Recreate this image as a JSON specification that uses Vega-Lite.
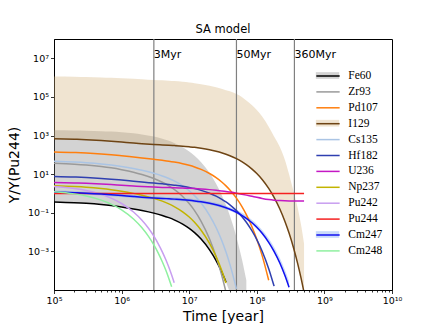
{
"$schema": "https://vega.github.io/schema/vega-lite/v6.json",
"width": 338, "height": 251,
"autosize": {"type": "none"},
"padding": {"left": 54, "top": 39, "right": 44, "bottom": 37},
"background": "white",
"title": {"text": "SA model", "fontSize": 11.5, "fontWeight": "normal", "font": "DejaVu Sans", "offset": 2.5, "color": "black"},
"config": {"font": "DejaVu Sans", "view": {"stroke": "black", "strokeWidth": 1}},
"datasets": {
"lines": [
{"iso":"Fe60","t":1e5,"y":0.363},{"iso":"Fe60","t":2e5,"y":0.333},{"iso":"Fe60","t":3e5,"y":0.308},{"iso":"Fe60","t":5e5,"y":0.267},{"iso":"Fe60","t":7e5,"y":0.235},{"iso":"Fe60","t":1e6,"y":0.199},{"iso":"Fe60","t":1.5e6,"y":0.158},{"iso":"Fe60","t":2e6,"y":0.131},{"iso":"Fe60","t":3e6,"y":0.0957},{"iso":"Fe60","t":4e6,"y":0.0726},{"iso":"Fe60","t":5e6,"y":0.0558},{"iso":"Fe60","t":6e6,"y":0.0431},{"iso":"Fe60","t":8e6,"y":0.0259},{"iso":"Fe60","t":1e7,"y":0.0155},{"iso":"Fe60","t":1.2e7,"y":0.00931},{"iso":"Fe60","t":1.5e7,"y":0.00433},{"iso":"Fe60","t":2e7,"y":0.0012},{"iso":"Fe60","t":2.5e7,"y":0.000336},{"iso":"Fe60","t":3e7,"y":9.35e-5},{"iso":"Fe60","t":3.5e7,"y":2.61e-5},
{"iso":"Zr93","t":1e5,"y":36.3},{"iso":"Zr93","t":2e5,"y":32.8},{"iso":"Zr93","t":3e5,"y":29.8},{"iso":"Zr93","t":5e5,"y":25.0},{"iso":"Zr93","t":7e5,"y":21.3},{"iso":"Zr93","t":1e6,"y":17.1},{"iso":"Zr93","t":1.5e6,"y":12.6},{"iso":"Zr93","t":2e6,"y":9.57},{"iso":"Zr93","t":3e6,"y":5.92},{"iso":"Zr93","t":4e6,"y":3.80},{"iso":"Zr93","t":5e6,"y":2.47},{"iso":"Zr93","t":6e6,"y":1.61},{"iso":"Zr93","t":8e6,"y":0.697},{"iso":"Zr93","t":1e7,"y":0.299},{"iso":"Zr93","t":1.2e7,"y":0.129},{"iso":"Zr93","t":1.5e7,"y":0.0363},{"iso":"Zr93","t":2e7,"y":0.00441},{"iso":"Zr93","t":2.5e7,"y":0.000535},{"iso":"Zr93","t":3e7,"y":6.49e-5},{"iso":"Zr93","t":3.5e7,"y":7.87e-6},
{"iso":"Pd107","t":1e5,"y":141},{"iso":"Pd107","t":2e5,"y":132},{"iso":"Pd107","t":3e5,"y":124},{"iso":"Pd107","t":5e5,"y":111},{"iso":"Pd107","t":7e5,"y":101},{"iso":"Pd107","t":1e6,"y":89.3},{"iso":"Pd107","t":1.5e6,"y":76.7},{"iso":"Pd107","t":2e6,"y":68.9},{"iso":"Pd107","t":3e6,"y":58.9},{"iso":"Pd107","t":4e6,"y":52.2},{"iso":"Pd107","t":5e6,"y":47.1},{"iso":"Pd107","t":6e6,"y":42.5},{"iso":"Pd107","t":8e6,"y":35.0},{"iso":"Pd107","t":1e7,"y":28.8},{"iso":"Pd107","t":1.2e7,"y":23.7},{"iso":"Pd107","t":1.5e7,"y":17.6},{"iso":"Pd107","t":2e7,"y":10.8},{"iso":"Pd107","t":2.5e7,"y":6.62},{"iso":"Pd107","t":3e7,"y":4.06},{"iso":"Pd107","t":3.5e7,"y":2.48},{"iso":"Pd107","t":4e7,"y":1.52},{"iso":"Pd107","t":5e7,"y":0.571},{"iso":"Pd107","t":6e7,"y":0.215},{"iso":"Pd107","t":7e7,"y":0.0805},{"iso":"Pd107","t":8.5e7,"y":0.0185},{"iso":"Pd107","t":1e8,"y":0.00427},{"iso":"Pd107","t":1.2e8,"y":0.000603},{"iso":"Pd107","t":1.5e8,"y":3.19e-5},
{"iso":"I129","t":1e5,"y":692},{"iso":"I129","t":2e5,"y":649},{"iso":"I129","t":3e5,"y":614},{"iso":"I129","t":5e5,"y":556},{"iso":"I129","t":7e5,"y":512},{"iso":"I129","t":1e6,"y":462},{"iso":"I129","t":1.5e6,"y":410},{"iso":"I129","t":2e6,"y":380},{"iso":"I129","t":3e6,"y":345},{"iso":"I129","t":4e6,"y":327},{"iso":"I129","t":5e6,"y":313},{"iso":"I129","t":6e6,"y":301},{"iso":"I129","t":8e6,"y":281},{"iso":"I129","t":1e7,"y":261},{"iso":"I129","t":1.2e7,"y":244},{"iso":"I129","t":1.5e7,"y":219},{"iso":"I129","t":2e7,"y":183},{"iso":"I129","t":2.5e7,"y":153},{"iso":"I129","t":3e7,"y":129},{"iso":"I129","t":3.5e7,"y":108},{"iso":"I129","t":4e7,"y":90.2},{"iso":"I129","t":5e7,"y":63.2},{"iso":"I129","t":6e7,"y":44.4},{"iso":"I129","t":7e7,"y":31.1},{"iso":"I129","t":8.5e7,"y":18.3},{"iso":"I129","t":1e8,"y":10.7},{"iso":"I129","t":1.2e8,"y":5.27},{"iso":"I129","t":1.5e8,"y":1.82},{"iso":"I129","t":1.8e8,"y":0.628},{"iso":"I129","t":2.2e8,"y":0.152},{"iso":"I129","t":2.6e8,"y":0.0367},{"iso":"I129","t":3e8,"y":0.00889},{"iso":"I129","t":3.5e8,"y":0.00151},{"iso":"I129","t":4e8,"y":0.000256},{"iso":"I129","t":4.5e8,"y":4.34e-5},{"iso":"I129","t":5e8,"y":7.35e-6},
{"iso":"Cs135","t":1e5,"y":46.8},{"iso":"Cs135","t":2e5,"y":42.8},{"iso":"Cs135","t":3e5,"y":39.4},{"iso":"Cs135","t":5e5,"y":33.9},{"iso":"Cs135","t":7e5,"y":29.6},{"iso":"Cs135","t":1e6,"y":24.8},{"iso":"Cs135","t":1.5e6,"y":19.4},{"iso":"Cs135","t":2e6,"y":15.8},{"iso":"Cs135","t":3e6,"y":11.1},{"iso":"Cs135","t":4e6,"y":8.09},{"iso":"Cs135","t":5e6,"y":6.0},{"iso":"Cs135","t":6e6,"y":4.46},{"iso":"Cs135","t":8e6,"y":2.49},{"iso":"Cs135","t":1e7,"y":1.39},{"iso":"Cs135","t":1.2e7,"y":0.773},{"iso":"Cs135","t":1.5e7,"y":0.321},{"iso":"Cs135","t":2e7,"y":0.0743},{"iso":"Cs135","t":2.5e7,"y":0.0172},{"iso":"Cs135","t":3e7,"y":0.00398},{"iso":"Cs135","t":3.5e7,"y":0.00092},{"iso":"Cs135","t":4e7,"y":0.000213},{"iso":"Cs135","t":5e7,"y":1.14e-5},
{"iso":"Hf182","t":1e5,"y":7.59},{"iso":"Hf182","t":2e5,"y":7.10},{"iso":"Hf182","t":3e5,"y":6.68},{"iso":"Hf182","t":5e5,"y":6.01},{"iso":"Hf182","t":7e5,"y":5.50},{"iso":"Hf182","t":1e6,"y":4.92},{"iso":"Hf182","t":1.5e6,"y":4.30},{"iso":"Hf182","t":2e6,"y":3.91},{"iso":"Hf182","t":3e6,"y":3.44},{"iso":"Hf182","t":4e6,"y":3.14},{"iso":"Hf182","t":5e6,"y":2.91},{"iso":"Hf182","t":6e6,"y":2.70},{"iso":"Hf182","t":8e6,"y":2.36},{"iso":"Hf182","t":1e7,"y":2.05},{"iso":"Hf182","t":1.2e7,"y":1.79},{"iso":"Hf182","t":1.5e7,"y":1.45},{"iso":"Hf182","t":2e7,"y":1.03},{"iso":"Hf182","t":2.5e7,"y":0.726},{"iso":"Hf182","t":3e7,"y":0.514},{"iso":"Hf182","t":3.5e7,"y":0.364},{"iso":"Hf182","t":4e7,"y":0.258},{"iso":"Hf182","t":5e7,"y":0.129},{"iso":"Hf182","t":6e7,"y":0.0646},{"iso":"Hf182","t":7e7,"y":0.0323},{"iso":"Hf182","t":8.5e7,"y":0.0114},{"iso":"Hf182","t":1e8,"y":0.00405},{"iso":"Hf182","t":1.2e8,"y":0.00101},{"iso":"Hf182","t":1.5e8,"y":0.000127},{"iso":"Hf182","t":1.8e8,"y":1.59e-5},
{"iso":"U236","t":1e5,"y":3.72},{"iso":"U236","t":2e5,"y":3.52},{"iso":"U236","t":3e5,"y":3.36},{"iso":"U236","t":5e5,"y":3.08},{"iso":"U236","t":7e5,"y":2.88},{"iso":"U236","t":1e6,"y":2.65},{"iso":"U236","t":1.5e6,"y":2.42},{"iso":"U236","t":2e6,"y":2.28},{"iso":"U236","t":3e6,"y":2.13},{"iso":"U236","t":4e6,"y":2.06},{"iso":"U236","t":5e6,"y":2.02},{"iso":"U236","t":6e6,"y":1.98},{"iso":"U236","t":8e6,"y":1.91},{"iso":"U236","t":1e7,"y":1.85},{"iso":"U236","t":1.2e7,"y":1.79},{"iso":"U236","t":1.5e7,"y":1.71},{"iso":"U236","t":2e7,"y":1.58},{"iso":"U236","t":2.5e7,"y":1.46},{"iso":"U236","t":3e7,"y":1.36},{"iso":"U236","t":3.5e7,"y":1.27},{"iso":"U236","t":4e7,"y":1.18},{"iso":"U236","t":5e7,"y":1.035},{"iso":"U236","t":6e7,"y":0.917},{"iso":"U236","t":7e7,"y":0.821},{"iso":"U236","t":8.5e7,"y":0.711},{"iso":"U236","t":1e8,"y":0.630},{"iso":"U236","t":1.2e8,"y":0.555},{"iso":"U236","t":1.5e8,"y":0.487},{"iso":"U236","t":1.8e8,"y":0.451},{"iso":"U236","t":2.2e8,"y":0.428},{"iso":"U236","t":2.6e8,"y":0.418},{"iso":"U236","t":3e8,"y":0.413},{"iso":"U236","t":3.5e8,"y":0.411},{"iso":"U236","t":4e8,"y":0.41},{"iso":"U236","t":5e8,"y":0.41},
{"iso":"Np237","t":1e5,"y":2.51},{"iso":"Np237","t":2e5,"y":2.29},{"iso":"Np237","t":3e5,"y":2.11},{"iso":"Np237","t":5e5,"y":1.80},{"iso":"Np237","t":7e5,"y":1.57},{"iso":"Np237","t":1e6,"y":1.31},{"iso":"Np237","t":1.5e6,"y":1.01},{"iso":"Np237","t":2e6,"y":0.811},{"iso":"Np237","t":3e6,"y":0.558},{"iso":"Np237","t":4e6,"y":0.399},{"iso":"Np237","t":5e6,"y":0.290},{"iso":"Np237","t":6e6,"y":0.210},{"iso":"Np237","t":8e6,"y":0.112},{"iso":"Np237","t":1e7,"y":0.06},{"iso":"Np237","t":1.2e7,"y":0.0319},{"iso":"Np237","t":1.5e7,"y":0.0124},{"iso":"Np237","t":2e7,"y":0.00258},{"iso":"Np237","t":2.5e7,"y":0.000536},{"iso":"Np237","t":3e7,"y":0.000111},{"iso":"Np237","t":3.5e7,"y":2.31e-5},
{"iso":"Pu242","t":1e5,"y":2.29},{"iso":"Pu242","t":2e5,"y":1.79},{"iso":"Pu242","t":3e5,"y":1.42},{"iso":"Pu242","t":5e5,"y":0.893},{"iso":"Pu242","t":7e5,"y":0.574},{"iso":"Pu242","t":1e6,"y":0.302},{"iso":"Pu242","t":1.5e6,"y":0.109},{"iso":"Pu242","t":2e6,"y":0.0408},{"iso":"Pu242","t":2.5e6,"y":0.0157},{"iso":"Pu242","t":3e6,"y":0.00611},{"iso":"Pu242","t":3.5e6,"y":0.0024},{"iso":"Pu242","t":4e6,"y":0.000951},{"iso":"Pu242","t":4.5e6,"y":0.000377},{"iso":"Pu242","t":5e6,"y":0.00015},{"iso":"Pu242","t":5.5e6,"y":5.96e-5},{"iso":"Pu242","t":6e6,"y":2.37e-5},
{"iso":"Pu244","t":1e5,"y":1},{"iso":"Pu244","t":1e6,"y":1},{"iso":"Pu244","t":1e7,"y":1},{"iso":"Pu244","t":1e8,"y":1},{"iso":"Pu244","t":5e8,"y":1},
{"iso":"Cm247","t":1e5,"y":1.175},{"iso":"Cm247","t":2e5,"y":1.10},{"iso":"Cm247","t":3e5,"y":1.04},{"iso":"Cm247","t":5e5,"y":0.944},{"iso":"Cm247","t":7e5,"y":0.869},{"iso":"Cm247","t":1e6,"y":0.785},{"iso":"Cm247","t":1.5e6,"y":0.697},{"iso":"Cm247","t":2e6,"y":0.644},{"iso":"Cm247","t":3e6,"y":0.586},{"iso":"Cm247","t":4e6,"y":0.553},{"iso":"Cm247","t":5e6,"y":0.531},{"iso":"Cm247","t":6e6,"y":0.509},{"iso":"Cm247","t":8e6,"y":0.475},{"iso":"Cm247","t":1e7,"y":0.443},{"iso":"Cm247","t":1.2e7,"y":0.412},{"iso":"Cm247","t":1.5e7,"y":0.371},{"iso":"Cm247","t":2e7,"y":0.310},{"iso":"Cm247","t":2.5e7,"y":0.259},{"iso":"Cm247","t":3e7,"y":0.217},{"iso":"Cm247","t":3.5e7,"y":0.181},{"iso":"Cm247","t":4e7,"y":0.151},{"iso":"Cm247","t":5e7,"y":0.106},{"iso":"Cm247","t":6e7,"y":0.0741},{"iso":"Cm247","t":7e7,"y":0.0518},{"iso":"Cm247","t":8.5e7,"y":0.0303},{"iso":"Cm247","t":1e8,"y":0.0177},{"iso":"Cm247","t":1.2e8,"y":0.00867},{"iso":"Cm247","t":1.5e8,"y":0.00296},{"iso":"Cm247","t":1.8e8,"y":0.00101},{"iso":"Cm247","t":2.2e8,"y":0.000243},{"iso":"Cm247","t":2.6e8,"y":5.81e-5},{"iso":"Cm247","t":3e8,"y":1.39e-5},
{"iso":"Cm248","t":1e5,"y":1.23},{"iso":"Cm248","t":2e5,"y":0.951},{"iso":"Cm248","t":3e5,"y":0.74},{"iso":"Cm248","t":5e5,"y":0.453},{"iso":"Cm248","t":7e5,"y":0.282},{"iso":"Cm248","t":1e6,"y":0.143},{"iso":"Cm248","t":1.5e6,"y":0.0478},{"iso":"Cm248","t":2e6,"y":0.0167},{"iso":"Cm248","t":2.5e6,"y":0.00597},{"iso":"Cm248","t":3e6,"y":0.00216},{"iso":"Cm248","t":3.5e6,"y":0.000794},{"iso":"Cm248","t":4e6,"y":0.000292},{"iso":"Cm248","t":4.5e6,"y":0.000108},{"iso":"Cm248","t":5e6,"y":3.99e-5},{"iso":"Cm248","t":5.5e6,"y":1.48e-5}
],
"bands": [
{"band":"Fe60","t":1e5,"lo":0.363,"hi":1862},{"band":"Fe60","t":2e5,"lo":0.333,"hi":1816},{"band":"Fe60","t":3e5,"lo":0.308,"hi":1770},{"band":"Fe60","t":5e5,"lo":0.267,"hi":1683},{"band":"Fe60","t":7e5,"lo":0.235,"hi":1596},{"band":"Fe60","t":1e6,"lo":0.199,"hi":1479},{"band":"Fe60","t":1.5e6,"lo":0.158,"hi":1303},{"band":"Fe60","t":2e6,"lo":0.131,"hi":1146},{"band":"Fe60","t":3e6,"lo":0.0957,"hi":887},{"band":"Fe60","t":4e6,"lo":0.0726,"hi":687},{"band":"Fe60","t":5e6,"lo":0.0558,"hi":532},{"band":"Fe60","t":6e6,"lo":0.0431,"hi":412},{"band":"Fe60","t":8e6,"lo":0.0259,"hi":247},{"band":"Fe60","t":1e7,"lo":0.0155,"hi":148},{"band":"Fe60","t":1.2e7,"lo":0.00931,"hi":88.9},{"band":"Fe60","t":1.5e7,"lo":0.00433,"hi":41.3},{"band":"Fe60","t":2e7,"lo":0.0012,"hi":11.5},{"band":"Fe60","t":2.5e7,"lo":0.000336,"hi":3.21},{"band":"Fe60","t":3e7,"lo":9.35e-5,"hi":0.893},{"band":"Fe60","t":3.5e7,"lo":2.61e-5,"hi":0.249},{"band":"Fe60","t":4e7,"lo":7.26e-6,"hi":0.0693},{"band":"Fe60","t":5e7,"lo":5.64e-7,"hi":0.00538},{"band":"Fe60","t":6e7,"lo":4.38e-8,"hi":0.000418},{"band":"Fe60","t":7e7,"lo":3.39e-9,"hi":3.24e-5},
{"band":"I129","t":1e5,"lo":692,"hi":1.148e6},{"band":"I129","t":2e5,"lo":649,"hi":1.122e6},{"band":"I129","t":3e5,"lo":614,"hi":1.072e6},{"band":"I129","t":5e5,"lo":556,"hi":1.023e6},{"band":"I129","t":7e5,"lo":512,"hi":9.77e5},{"band":"I129","t":1e6,"lo":462,"hi":9.33e5},{"band":"I129","t":1.5e6,"lo":410,"hi":8.71e5},{"band":"I129","t":2e6,"lo":380,"hi":8.32e5},{"band":"I129","t":3e6,"lo":345,"hi":7.59e5},{"band":"I129","t":4e6,"lo":327,"hi":7.24e5},{"band":"I129","t":5e6,"lo":313,"hi":6.92e5},{"band":"I129","t":6e6,"lo":301,"hi":6.61e5},{"band":"I129","t":8e6,"lo":281,"hi":6.03e5},{"band":"I129","t":1e7,"lo":261,"hi":5.62e5},{"band":"I129","t":1.2e7,"lo":244,"hi":5.13e5},{"band":"I129","t":1.5e7,"lo":219,"hi":4.57e5},{"band":"I129","t":2e7,"lo":183,"hi":3.80e5},{"band":"I129","t":2.5e7,"lo":153,"hi":3.16e5},{"band":"I129","t":3e7,"lo":129,"hi":2.63e5},{"band":"I129","t":3.5e7,"lo":108,"hi":2.24e5},{"band":"I129","t":4e7,"lo":90.2,"hi":1.95e5},{"band":"I129","t":5e7,"lo":63.2,"hi":1.41e5},{"band":"I129","t":6e7,"lo":44.4,"hi":1.0e5},{"band":"I129","t":7e7,"lo":31.1,"hi":6.61e4},{"band":"I129","t":8.5e7,"lo":18.3,"hi":3.72e4},{"band":"I129","t":1e8,"lo":10.7,"hi":2.09e4},{"band":"I129","t":1.2e8,"lo":5.27,"hi":9550},{"band":"I129","t":1.5e8,"lo":1.82,"hi":2820},{"band":"I129","t":1.8e8,"lo":0.628,"hi":891},{"band":"I129","t":2.2e8,"lo":0.152,"hi":251},{"band":"I129","t":2.6e8,"lo":0.0367,"hi":56.2},{"band":"I129","t":3e8,"lo":0.00889,"hi":10},{"band":"I129","t":3.5e8,"lo":0.00151,"hi":1.26},{"band":"I129","t":4e8,"lo":0.000256,"hi":0.2},{"band":"I129","t":4.5e8,"lo":4.34e-5,"hi":0.0251},{"band":"I129","t":5e8,"lo":7.35e-6,"hi":0.00251},
{"band":"Cm247","t":1e5,"lo":0.978,"hi":1.41},{"band":"Cm247","t":2e5,"lo":0.915,"hi":1.32},{"band":"Cm247","t":3e5,"lo":0.865,"hi":1.25},{"band":"Cm247","t":5e5,"lo":0.785,"hi":1.13},{"band":"Cm247","t":7e5,"lo":0.723,"hi":1.04},{"band":"Cm247","t":1e6,"lo":0.653,"hi":0.942},{"band":"Cm247","t":1.5e6,"lo":0.58,"hi":0.837},{"band":"Cm247","t":2e6,"lo":0.536,"hi":0.774},{"band":"Cm247","t":3e6,"lo":0.488,"hi":0.708},{"band":"Cm247","t":4e6,"lo":0.46,"hi":0.67},{"band":"Cm247","t":5e6,"lo":0.442,"hi":0.644},{"band":"Cm247","t":6e6,"lo":0.423,"hi":0.619},{"band":"Cm247","t":8e6,"lo":0.395,"hi":0.58},{"band":"Cm247","t":1e7,"lo":0.369,"hi":0.543},{"band":"Cm247","t":1.2e7,"lo":0.343,"hi":0.506},{"band":"Cm247","t":1.5e7,"lo":0.309,"hi":0.459},{"band":"Cm247","t":2e7,"lo":0.258,"hi":0.387},{"band":"Cm247","t":2.5e7,"lo":0.215,"hi":0.326},{"band":"Cm247","t":3e7,"lo":0.181,"hi":0.276},{"band":"Cm247","t":3.5e7,"lo":0.151,"hi":0.232},{"band":"Cm247","t":4e7,"lo":0.126,"hi":0.195},{"band":"Cm247","t":5e7,"lo":0.0882,"hi":0.14},{"band":"Cm247","t":6e7,"lo":0.0617,"hi":0.0995},{"band":"Cm247","t":7e7,"lo":0.0431,"hi":0.0709},{"band":"Cm247","t":8.5e7,"lo":0.0252,"hi":0.0426},{"band":"Cm247","t":1e8,"lo":0.0147,"hi":0.0256},{"band":"Cm247","t":1.2e8,"lo":0.00721,"hi":0.013},{"band":"Cm247","t":1.5e8,"lo":0.00246,"hi":0.00469},{"band":"Cm247","t":1.8e8,"lo":0.00084,"hi":0.00169},{"band":"Cm247","t":2.2e8,"lo":0.000202,"hi":0.000436},{"band":"Cm247","t":2.6e8,"lo":4.83e-5,"hi":0.000112},{"band":"Cm247","t":3e8,"lo":1.16e-5,"hi":2.86e-5}
],
"epochs": [{"t":3e6,"label":"3Myr"},{"t":5e7,"label":"50Myr"},{"t":3.6e8,"label":"360Myr"}]
},
"resolve": {"axis": {"x": "independent", "y": "independent"}, "legend": {"fill": "independent", "stroke": "independent"}},
"layer": [
{"data": {"name": "bands"},
 "mark": {"type": "area", "opacity": 0.35, "clip": true, "interpolate": "monotone"},
 "encoding": {
  "x": {"field": "t", "type": "quantitative", "scale": {"type": "log", "domain": [1e5, 1e10]}, "axis": null},
  "y": {"field": "lo", "type": "quantitative", "scale": {"type": "log", "domain": [4e-5, 5e7]}, "axis": null},
  "y2": {"field": "hi"},
  "fill": {"field": "band", "type": "nominal", "title": "bands",
   "scale": {"domain": ["Fe60","Zr93","Pd107","I129","Cs135","Hf182","U236","Np237","Pu242","Pu244","Cm247","Cm248"],
             "range": ["#808080","transparent","transparent","#d4b37a","transparent","transparent","transparent","transparent","transparent","transparent","#6495ed","transparent"]},
   "legend": {"orient": "none", "legendX": 268, "legendY": 31, "title": null, "direction": "vertical", "padding": 0,
    "symbolType": "M-2.33,-0.67H2.33V0.67H-2.33Z", "symbolSize": 100, "symbolOpacity": 0.35, "symbolStrokeWidth": 0, "symbolStrokeColor": "transparent",
    "labelFont": "Liberation Serif", "labelFontSize": 11, "labelOffset": 14.3, "rowPadding": 3.9, "labelColor": "transparent", "labelExpr": "''"}}
 }},
{"data": {"name": "epochs"},
 "mark": {"type": "rule", "color": "#808080", "strokeWidth": 1.2},
 "encoding": {
  "x": {"field": "t", "type": "quantitative",
   "axis": {"orient": "bottom", "values": [2e5,3e5,4e5,5e5,6e5,7e5,8e5,9e5,2e6,3e6,4e6,5e6,6e6,7e6,8e6,9e6,2e7,3e7,4e7,5e7,6e7,7e7,8e7,9e7,2e8,3e8,4e8,5e8,6e8,7e8,8e8,9e8,2e9,3e9,4e9,5e9,6e9,7e9,8e9,9e9],
    "labels": false, "domain": false, "grid": false, "tickSize": 2, "tickColor": "black", "tickWidth": 0.8, "title": null}}
 }},
{"data": {"name": "lines"},
 "mark": {"type": "line", "strokeWidth": 1.5, "clip": true, "interpolate": "monotone"},
 "encoding": {
  "x": {"field": "t", "type": "quantitative",
   "axis": {"orient": "bottom", "values": [1e5,1e6,1e7,1e8,1e9,1e10],
    "labelExpr": "datum.value == 1e5 ? '10⁵' : datum.value == 1e6 ? '10⁶' : datum.value == 1e7 ? '10⁷' : datum.value == 1e8 ? '10⁸' : datum.value == 1e9 ? '10⁹' : '10¹⁰'",
    "title": "Time [year]", "titleFontSize": 14, "titleFontWeight": "normal", "titleColor": "black", "titlePadding": 4,
    "labelFontSize": 9.5, "labelColor": "black", "labelPadding": 2, "labelFlush": false, "labelOverlap": false,
    "tickSize": 3.5, "tickColor": "black", "tickWidth": 0.8, "domainColor": "black", "domainWidth": 1, "grid": false}},
  "y": {"field": "y", "type": "quantitative",
   "axis": {"orient": "left", "values": [0.001, 0.1, 10, 1000, 100000, 10000000],
    "labelExpr": "datum.value == 0.001 ? '10⁻³' : datum.value == 0.1 ? '10⁻¹' : datum.value == 10 ? '10¹' : datum.value == 1000 ? '10³' : datum.value == 100000 ? '10⁵' : '10⁷'",
    "title": "Y/Y(Pu244)", "titleFontSize": 14, "titleFontWeight": "normal", "titleColor": "black", "titlePadding": 6,
    "labelFontSize": 9.5, "labelColor": "black", "labelPadding": 2, "labelFlush": false, "labelOverlap": false,
    "tickSize": 3.5, "tickColor": "black", "tickWidth": 0.8, "domainColor": "black", "domainWidth": 1, "grid": false}},
  "stroke": {"field": "iso", "type": "nominal", "title": "lines",
   "scale": {"domain": ["Fe60","Zr93","Pd107","I129","Cs135","Hf182","U236","Np237","Pu242","Pu244","Cm247","Cm248"],
             "range": ["#000000","#9a9a9a","#ff7f0e","#6e4414","#aac4e4","#2f3fb0","#c418c4","#c2b400","#c89ef0","#f52020","#1010f0","#8ff0a0"]},
   "legend": {"orient": "none", "legendX": 268, "legendY": 31, "title": null, "direction": "vertical", "padding": 0,
    "symbolType": "M-2.33,0H2.33", "symbolSize": 100, "symbolStrokeWidth": 1.5, "symbolFillColor": "transparent",
    "labelFont": "Liberation Serif, Times New Roman, DejaVu Serif, serif", "labelFontSize": 11.5, "labelOffset": 14.3, "rowPadding": 3.9, "labelColor": "black"}}
 }},
{"data": {"name": "epochs"},
 "mark": {"type": "text", "align": "left", "baseline": "middle", "fontSize": 11, "dx": 0, "color": "black"},
 "encoding": {
  "x": {"field": "t", "type": "quantitative", "axis": null},
  "y": {"datum": 14500000, "type": "quantitative", "axis": null},
  "text": {"field": "label"}
 }}
]
}
